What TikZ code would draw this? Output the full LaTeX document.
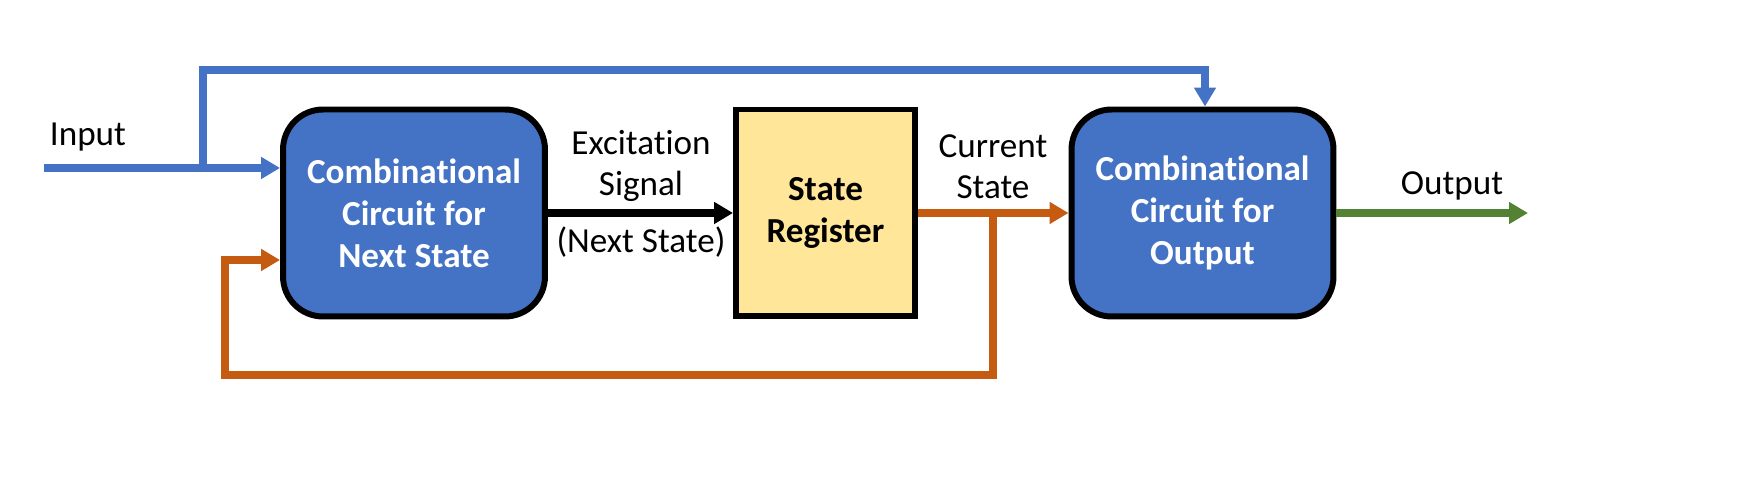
\documentclass[tikz,border=0pt]{standalone}
\usepackage{fontspec}
\setmainfont{Carlito}[Ligatures=CommonOff]
\usetikzlibrary{arrows.meta}
\definecolor{boxblue}{HTML}{4472C4}
\definecolor{regyellow}{HTML}{FFE699}
\definecolor{wireorange}{HTML}{C55A11}
\definecolor{wiregreen}{HTML}{548235}
\begin{document}
\begin{tikzpicture}[x=0.02cm,y=-0.02cm,
  block/.style={draw,line width=3.4pt,rounded corners=0.8cm,fill=boxblue,text=white,
    font=\bfseries\fontsize{20}{24}\selectfont,align=center,minimum width=5.24cm,minimum height=4.14cm},
  regbox/.style={draw,line width=3.4pt,fill=regyellow,align=center,
    font=\bfseries\fontsize{20}{24}\selectfont,minimum width=3.58cm,minimum height=4.14cm},
  wire/.style={line width=4pt,-{Triangle[length=0.38cm,width=0.42cm]}},
  lbl/.style={font=\fontsize{20}{23.2}\selectfont,align=center}]
\useasboundingbox (0,0) rectangle (1759,502);
% blocks
\node[block] (ns) at (414,213) {Combinational\\Circuit for\\Next State};
\node[regbox] (reg) at (825.5,213) {State\\Register};
\node[block] (out) at (1202.5,213) {Combinational\\Circuit for\\Output};
% wire points
\coordinate (in) at (44,168);
\coordinate (tap) at (203,168);
\coordinate (top) at (1205,70);
\coordinate (fb) at (993,213);
\coordinate (low) at (225,375);
\coordinate (back) at (225,260);
\coordinate (end) at (1528,213);
% wires
\draw[wire,boxblue] (in) -- (ns.west |- in);
\draw[wire,boxblue] (tap) |- (top) -- (top |- out.north);
\draw[wire] (ns.east) -- (reg.west);
\draw[wire,wireorange] (reg.east) -- (out.west);
\draw[wire,wireorange] (fb) |- (low) -- (back) -- (ns.west |- back);
\draw[wire,wiregreen] (out.east) -- (end);
% labels
\node[lbl] (inlbl) at (88,137) {Input};
\node[lbl] (exlbl) at (641,166) {Excitation\\Signal};
\node[lbl] (nslbl) at (641,242) {(Next State)};
\node[lbl] (cslbl) at (993,167) {Current\\State};
\node[lbl] (outlbl) at (1452,186) {Output};
\end{tikzpicture}
\end{document}
